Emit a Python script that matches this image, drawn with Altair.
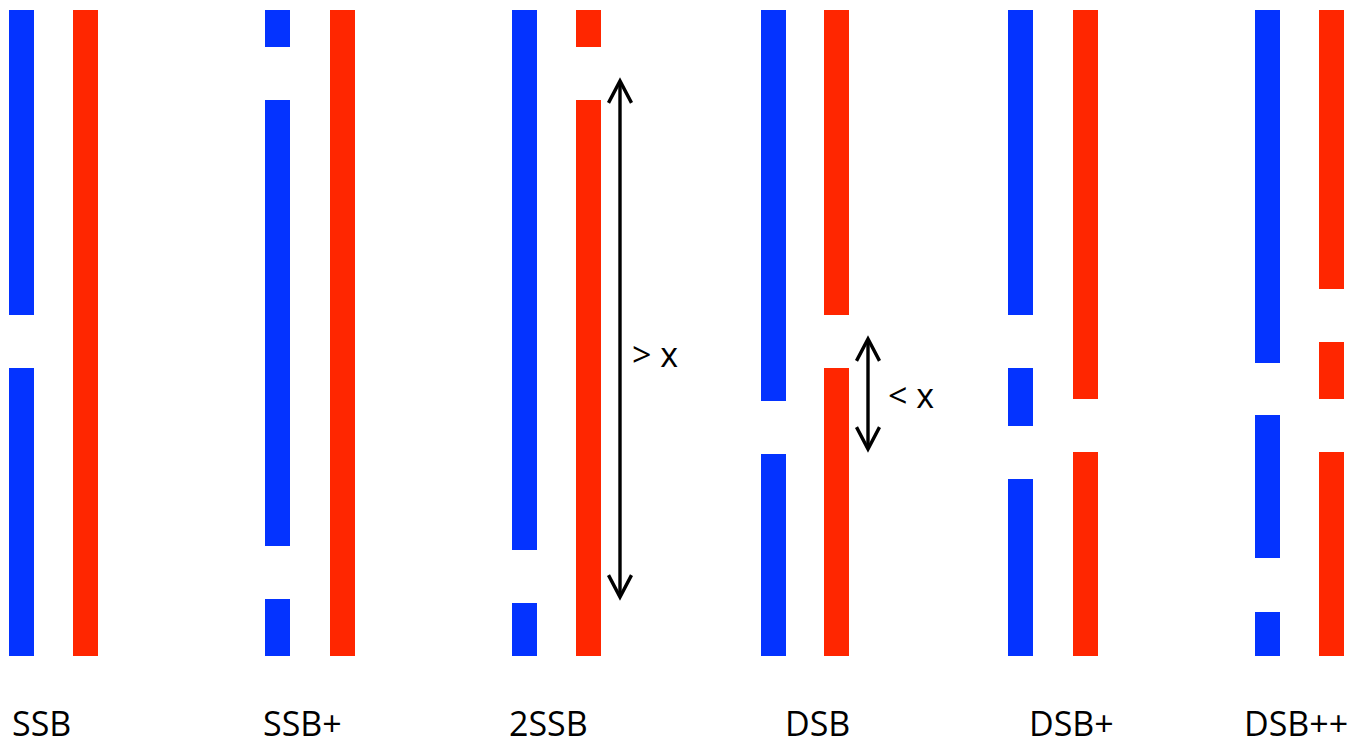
import altair as alt
import pandas as pd

# ---- data: strand segments along the strand (0 = top, 646 = bottom) ----
groups = ["SSB", "SSB+", "2SSB", "DSB", "DSB+", "DSB++"]
blue_segments = [
    [(0, 305), (358, 646)],
    [(0, 37), (90, 536), (589, 646)],
    [(0, 540), (593, 646)],
    [(0, 391), (444, 646)],
    [(0, 305), (358, 416), (469, 646)],
    [(0, 353), (405, 548), (602, 646)],
]
red_segments = [
    [(0, 646)],
    [(0, 646)],
    [(0, 37), (90, 646)],
    [(0, 305), (358, 646)],
    [(0, 389), (442, 646)],
    [(0, 279), (332, 389), (442, 646)],
]
arrow_groups = ["2SSB", "DSB"]
arrow_start = [71, 329]
arrow_end = [587, 439]
arrow_text = ["> x", "< x"]

# ---- layout (page pixel positions) ----
blue_left = [9, 265, 512, 761, 1008, 1255]
red_left = [73, 330, 576, 824, 1073, 1319]
strand_w = 25
label_x = [12, 263, 509, 785, 1029, 1244]
label_y = 726
arrow_x = [620, 868]
arrow_text_x = [632, 888]
arrow_text_y = [347, 388]

rows = []
for gi, g in enumerate(groups):
    for s, e in blue_segments[gi]:
        rows.append(dict(group=g, strand="blue", x=blue_left[gi], x2=blue_left[gi] + strand_w, y=s, y2=e))
    for s, e in red_segments[gi]:
        rows.append(dict(group=g, strand="red", x=red_left[gi], x2=red_left[gi] + strand_w, y=s, y2=e))
seg = pd.DataFrame(rows)

labels = pd.DataFrame(dict(label=groups, x=label_x, y=[label_y] * len(groups)))
arrows = pd.DataFrame(dict(group=arrow_groups, x=arrow_x, y=arrow_start, y2=arrow_end,
                           tx=arrow_text_x, ty=arrow_text_y, text=arrow_text))

xs = alt.Scale(domain=[8, 1361], nice=False, zero=False)
ys = alt.Scale(domain=[-2, 737], reverse=True, nice=False, zero=False)

bars = alt.Chart(seg).mark_rect().encode(
    x=alt.X("x:Q", scale=xs, axis=None),
    x2="x2:Q",
    y=alt.Y("y:Q", scale=ys, axis=None),
    y2="y2:Q",
    color=alt.Color("strand:N", scale=alt.Scale(domain=["blue", "red"], range=["#0433ff", "#ff2600"]), legend=None),
)

shaft = alt.Chart(arrows).mark_rule(color="black", strokeWidth=3.4).encode(
    x=alt.X("x:Q", scale=xs), y=alt.Y("y:Q", scale=ys), y2="y2:Q"
)
head_up = alt.Chart(arrows).mark_point(
    shape="M -1 1.9 L 0 0 L 1 1.9", size=529, filled=False, color="black",
    strokeWidth=3.4, opacity=1, strokeJoin="miter",
).encode(x=alt.X("x:Q", scale=xs), y=alt.Y("y:Q", scale=ys))
head_down = alt.Chart(arrows).mark_point(
    shape="M -1 -1.9 L 0 0 L 1 -1.9", size=529, filled=False, color="black",
    strokeWidth=3.4, opacity=1, strokeJoin="miter",
).encode(x=alt.X("x:Q", scale=xs), y=alt.Y("y2:Q", scale=ys))
arrow_labels = alt.Chart(arrows).mark_text(
    align="left", baseline="middle", font="Open Sans", fontSize=34, color="black"
).encode(x=alt.X("tx:Q", scale=xs), y=alt.Y("ty:Q", scale=ys), text="text:N")

group_labels = alt.Chart(labels).mark_text(
    align="left", baseline="alphabetic", font="Open Sans", fontSize=34, color="black"
).encode(x=alt.X("x:Q", scale=xs), y=alt.Y("y:Q", scale=ys), text="label:N")

chart = alt.layer(bars, shaft, head_up, head_down, arrow_labels, group_labels).properties(
    width=1353, height=739, padding=0, background="white",
    autosize=alt.AutoSizeParams(type="none")
).configure_view(stroke=None, strokeWidth=0)

chart.save("out.html", embed_options={"renderer": "svg", "actions": False})
